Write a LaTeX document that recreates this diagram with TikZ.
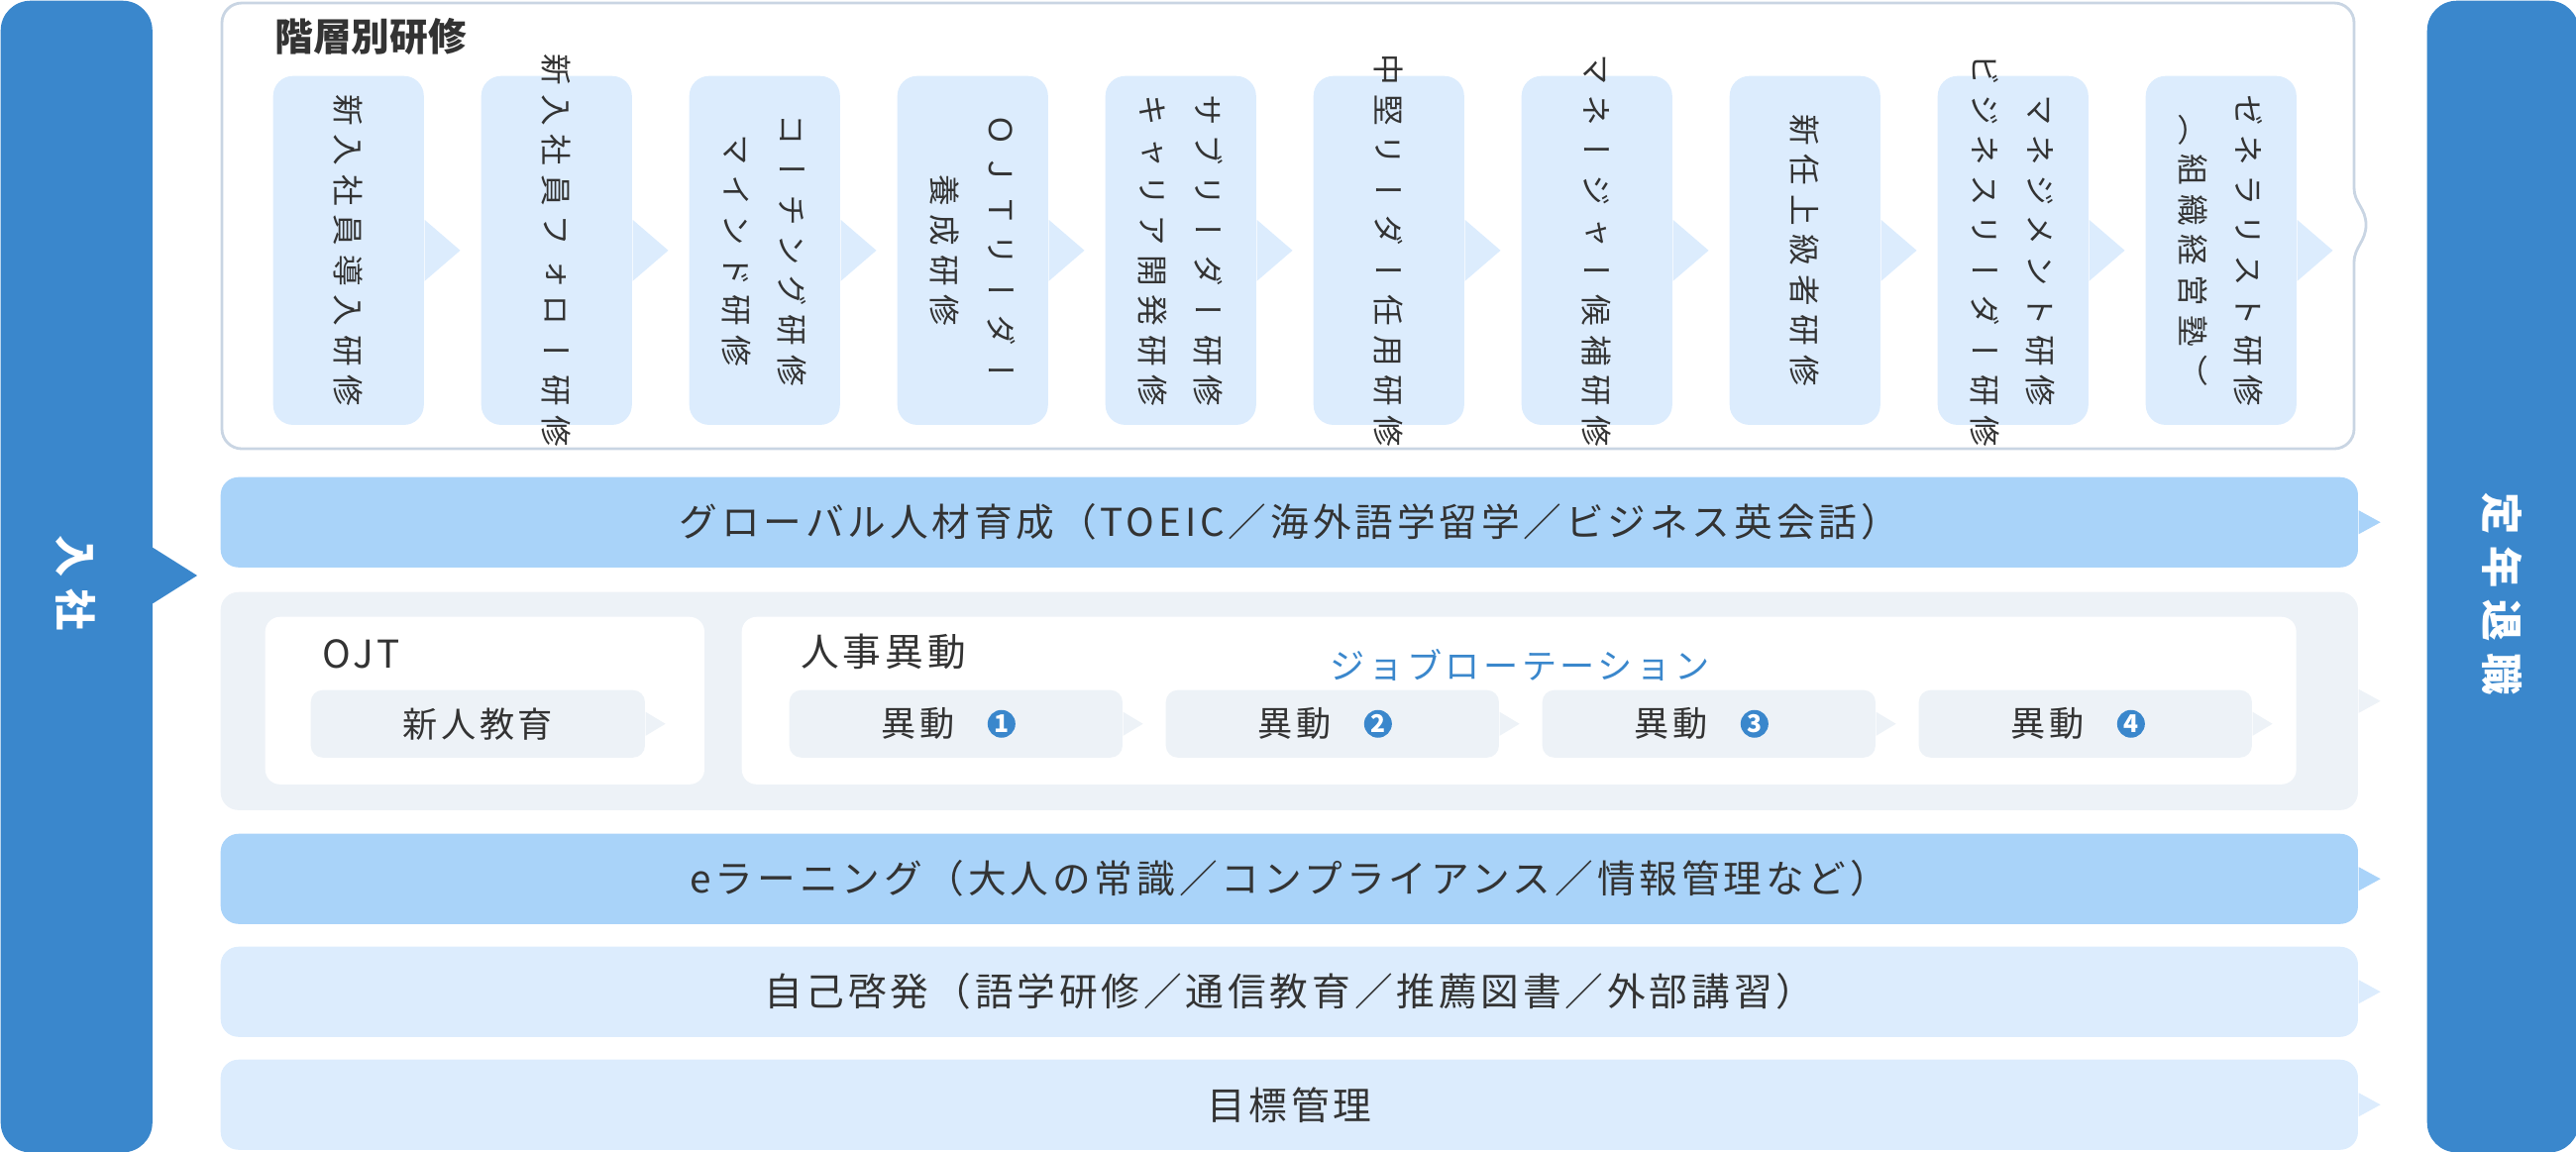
\documentclass[tikz,border=0pt]{standalone}
\usepackage{fontspec}
\setmainfont{Noto Sans CJK JP}
\newfontfamily\vfont[Vertical=RotatedGlyphs,LetterSpace=28]{Noto Sans CJK JP}
\newfontfamily\hfont[LetterSpace=10]{Noto Sans CJK JP}
\usetikzlibrary{positioning}
\definecolor{mainblue}{HTML}{3A87CC}
\definecolor{bandA}{HTML}{A9D3F9}
\definecolor{bandB}{HTML}{DCECFD}
\definecolor{bandG}{HTML}{EDF2F7}
\definecolor{frame}{HTML}{C9D5E3}
\definecolor{ink}{HTML}{333333}
\tikzset{
  bar/.style={fill=mainblue,rounded corners=0.3cm,minimum width=1.53cm,minimum height=11.62cm,anchor=north west,inner sep=0},
  band/.style={rounded corners=0.18cm,minimum width=21.56cm,minimum height=0.91cm,anchor=north west,text=ink,font=\hfont\fontsize{11pt}{13pt}\selectfont},
  course/.style={fill=bandB,rounded corners=0.2cm,minimum width=1.52cm,minimum height=3.52cm,anchor=north west,inner sep=0},
  move/.style={fill=bandG,rounded corners=0.12cm,minimum width=3.35cm,minimum height=0.68cm,anchor=north west,text=ink,font=\hfont\fontsize{10pt}{12pt}\selectfont},
  num/.style={circle,fill=mainblue,text=white,inner sep=0,minimum size=0.28cm,font=\bfseries\fontsize{7pt}{7pt}\selectfont},
  vtext/.style={rotate=-90,align=center,text=ink,font=\vfont\fontsize{9pt}{16pt}\selectfont},
}
\newcommand\notch[4]{\fill[#2] ([yshift=#4]#1.east) -- ([xshift=#3]#1.east) -- ([yshift=-#4]#1.east) -- cycle;}
\begin{document}
\begin{tikzpicture}[x=0.01cm,y=-0.01cm]
\useasboundingbox (0,0) rectangle (2600,1162);

% side bars
\node[bar] (join) at (0,0) {};
\node[bar] (retire) at (2449,0) {};
\fill[mainblue] (153,552) -- (199,581) -- (153,610) -- cycle;
\node[rotate=-90,text=white,font=\vfont\bfseries\fontsize{12pt}{14pt}\selectfont] at (76,589) {入社};
\node[rotate=-90,text=white,font=\vfont\bfseries\fontsize{12pt}{14pt}\selectfont] at (2525,600) {定年退職};

% grade training frame
\draw[frame,line width=0.8pt,rounded corners=0.2cm] (2376,190) -- (2376,3) -- (224,3) -- (224,453) -- (2376,453) -- (2376,265);
\draw[frame,line width=0.8pt] (2376,190) .. controls (2376,205) and (2388,210) .. (2388,227) .. controls (2388,244) and (2376,249) .. (2376,265);
\node[anchor=west,text=ink,font=\bfseries\fontsize{11pt}{13pt}\selectfont] (title) at (265,37) {階層別研修};
\foreach \t [count=\i] in {
  {新入社員導入研修},
  {新入社員フォロー研修},
  {コーチング研修\\マインド研修},
  {ＯＪＴリーダー\\養成研修},
  {サブリーダー研修\\キャリア開発研修},
  {中堅リーダー任用研修},
  {マネージャー候補研修},
  {新任上級者研修},
  {マネジメント研修\\ビジネスリーダー研修},
  {ゼネラリスト研修\\（組織経営塾）}}{
  \node[course] (s\i) at ({275+210*(\i-1)},76) {};
  \notch{s\i}{bandB}{0.36cm}{0.31cm}
  \node[vtext] at (s\i.center) {\t};
}

% global band
\node[band,fill=bandA] (glb) at (222,481) {グローバル人材育成（TOEIC／海外語学留学／ビジネス英会話）};
\notch{glb}{bandA}{0.22cm}{0.12cm}

% OJT and rotation
\node[band,fill=bandG,minimum height=2.2cm] (rot) at (222,597) {};
\notch{rot}{bandG}{0.22cm}{0.12cm}
\node[fill=white,rounded corners=0.15cm,minimum width=4.43cm,minimum height=1.69cm,anchor=north west] (ojt) at (267,622) {};
\node[fill=white,rounded corners=0.15cm,minimum width=15.68cm,minimum height=1.69cm,anchor=north west] (hr) at (748,622) {};
\node[anchor=west,text=ink,font=\hfont\fontsize{11pt}{13pt}\selectfont] at (313,660) {OJT};
\node[anchor=west,text=ink,font=\hfont\fontsize{11pt}{13pt}\selectfont] at (796,658) {人事異動};
\node[text=mainblue,font=\hfont\fontsize{10pt}{12pt}\selectfont] at (1534,671) {ジョブローテーション};
\node[move,minimum width=3.37cm] (new) at (313,696) {新人教育};
\notch{new}{bandG}{0.2cm}{0.12cm}
\foreach \i in {1,...,4}{
  \node[move,text width=1.5cm,align=left,inner xsep=0.93cm] (m\i) at ({796+380*(\i-1)},696) {異動};
  \node[num] (n\i) at ([xshift=0.46cm]m\i.center) {\i};
  \notch{m\i}{bandG}{0.2cm}{0.12cm}
}

% other bands
\node[band,fill=bandA] (elearn) at (222,841) {eラーニング（大人の常識／コンプライアンス／情報管理など）};
\notch{elearn}{bandA}{0.22cm}{0.12cm}
\node[band,fill=bandB] (self) at (222,955) {自己啓発（語学研修／通信教育／推薦図書／外部講習）};
\notch{self}{bandB}{0.22cm}{0.12cm}
\node[band,fill=bandB] (goal) at (222,1069) {目標管理};
\notch{goal}{bandB}{0.22cm}{0.12cm}
\end{tikzpicture}
\end{document}
